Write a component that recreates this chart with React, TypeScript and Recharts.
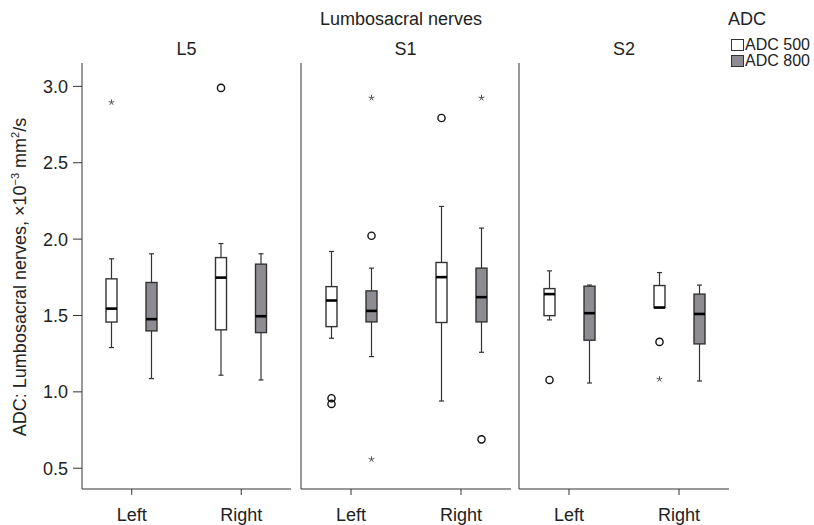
import { ComposedChart, Bar, XAxis, YAxis } from 'recharts';

const FONT = '"Liberation Sans", Arial, Helvetica, sans-serif';

const sides = ['Left', 'Right'];
const nerves = ['L5', 'S1', 'S2'];
const yTicks = [0.5, 1.0, 1.5, 2.0, 2.5, 3.0];

// box stats per side (Left, Right): [lower whisker, Q1, median, Q3, upper whisker]
const l5Adc500 = [[1.29, 1.457, 1.545, 1.74, 1.871], [1.109, 1.406, 1.748, 1.879, 1.971]];
const l5Adc800 = [[1.087, 1.399, 1.476, 1.716, 1.904], [1.078, 1.388, 1.495, 1.836, 1.904]];
const s1Adc500 = [[1.351, 1.427, 1.598, 1.689, 1.919], [0.94, 1.454, 1.751, 1.847, 2.214]];
const s1Adc800 = [[1.231, 1.458, 1.53, 1.661, 1.81], [1.259, 1.458, 1.62, 1.81, 2.072]];
const s2Adc500 = [[1.471, 1.499, 1.64, 1.676, 1.792], [1.552, 1.552, 1.552, 1.696, 1.781]];
const s2Adc800 = [[1.058, 1.338, 1.515, 1.692, 1.699], [1.071, 1.314, 1.51, 1.64, 1.699]];

// outliers per side: circles = outliers, stars = extreme values
const l5Adc500Circles = [[], [2.99]];
const l5Adc500Stars = [[2.895], []];
const l5Adc800Circles = [[], []];
const l5Adc800Stars = [[], []];
const s1Adc500Circles = [[0.958, 0.921], [2.793]];
const s1Adc500Stars = [[], []];
const s1Adc800Circles = [[2.022], [0.689]];
const s1Adc800Stars = [[2.924, 0.558], [2.924]];
const s2Adc500Circles = [[1.078], [1.327]];
const s2Adc500Stars = [[], [1.083]];
const s2Adc800Circles = [[], []];
const s2Adc800Stars = [[], []];

const WHITE = '#ffffff';
const GREY = '#8e8c92';
const INK = '#222222';

const range = (stats: number[], circles: number[], stars: number[]) => {
  const all = [...stats, ...circles, ...stars];
  return [Math.min(...all), Math.max(...all)];
};

const buildRows = (a500: number[][], a800: number[][], c500: number[][], s500: number[][], c800: number[][], s800: number[][]) =>
  sides.map((side, i) => ({
    side,
    a500: { stats: a500[i], circles: c500[i], stars: s500[i] },
    a800: { stats: a800[i], circles: c800[i], stars: s800[i] },
    r500: range(a500[i], c500[i], s500[i]),
    r800: range(a800[i], c800[i], s800[i]),
  }));

const panelRows = [
  buildRows(l5Adc500, l5Adc800, l5Adc500Circles, l5Adc500Stars, l5Adc800Circles, l5Adc800Stars),
  buildRows(s1Adc500, s1Adc800, s1Adc500Circles, s1Adc500Stars, s1Adc800Circles, s1Adc800Stars),
  buildRows(s2Adc500, s2Adc800, s2Adc500Circles, s2Adc500Stars, s2Adc800Circles, s2Adc800Stars),
];

const Star = ({ cx, cy }: { cx: number; cy: number }) => {
  const r = 3;
  const arms = [90, 162, 234, 306, 18].map((a) => {
    const rad = (a * Math.PI) / 180;
    return `M${cx},${cy}L${cx + r * Math.cos(rad)},${cy - r * Math.sin(rad)}`;
  });
  return <path d={arms.join('')} stroke="#555" strokeWidth={1} fill="none" />;
};

const BoxShape = (props: any) => {
  const { x, y, width, height, payload, seriesKey, rangeKey, fillColor } = props;
  const { stats, circles, stars } = payload[seriesKey];
  const [lo, hi] = payload[rangeKey];
  const top = Math.min(y, y + height);
  const bottom = Math.max(y, y + height);
  // linear map between the bar's own scaled ends
  const py = (v: number) => top + ((hi - v) / (hi - lo)) * (bottom - top);
  const cx = x + width / 2;
  const [wLo, q1, med, q3, wHi] = stats;
  const cap = 2.5;
  return (
    <g>
      <line x1={cx} x2={cx} y1={py(wHi)} y2={py(q3)} stroke="#333" strokeWidth={1.2} />
      <line x1={cx} x2={cx} y1={py(q1)} y2={py(wLo)} stroke="#333" strokeWidth={1.2} />
      <line x1={cx - cap} x2={cx + cap} y1={py(wHi)} y2={py(wHi)} stroke="#333" strokeWidth={1.2} />
      <line x1={cx - cap} x2={cx + cap} y1={py(wLo)} y2={py(wLo)} stroke="#333" strokeWidth={1.2} />
      <rect x={x} y={py(q3)} width={width} height={py(q1) - py(q3)} fill={fillColor} stroke="#333" strokeWidth={1.4} />
      <line x1={x} x2={x + width} y1={py(med)} y2={py(med)} stroke="#000" strokeWidth={2.6} />
      {circles.map((v: number, i: number) => (
        <circle key={`c${i}`} cx={cx} cy={py(v)} r={3.6} fill="none" stroke="#111" strokeWidth={1.4} />
      ))}
      {stars.map((v: number, i: number) => (
        <Star key={`s${i}`} cx={cx} cy={py(v)} />
      ))}
    </g>
  );
};

const tickStyle = { fontSize: 18, fill: INK, fontFamily: FONT };

const Panel = ({ rows, first }: { rows: any[]; first: boolean }) => (
  <ComposedChart
    width={first ? 291 : 211}
    height={525}
    data={rows}
    margin={{ top: 63, right: 0, bottom: 0, left: 0 }}
    barSize={11}
    barGap={29}
  >
    <XAxis
      dataKey="side"
      padding={{ left: -5, right: -5 }}
      height={36}
      tickSize={6}
      tickMargin={13}
      stroke="#333"
      tick={tickStyle}
    />
    {first ? (
      <YAxis
        type="number"
        domain={[0.364, 3.153]}
        allowDataOverflow
        ticks={yTicks}
        tickFormatter={(v: number) => v.toFixed(1)}
        width={82}
        tickSize={9}
        tickMargin={5}
        stroke="#333"
        tick={tickStyle}
      />
    ) : (
      <YAxis
        type="number"
        domain={[0.364, 3.153]}
        allowDataOverflow
        ticks={yTicks}
        width={1}
        tick={false}
        tickLine={false}
        stroke="#333"
      />
    )}
    <Bar
      dataKey={(d: any) => d.r500}
      isAnimationActive={false}
      shape={(p: any) => <BoxShape {...p} seriesKey="a500" rangeKey="r500" fillColor={WHITE} />}
    />
    <Bar
      dataKey={(d: any) => d.r800}
      isAnimationActive={false}
      shape={(p: any) => <BoxShape {...p} seriesKey="a800" rangeKey="r800" fillColor={GREY} />}
    />
  </ComposedChart>
);

const panelLeft = [0, 300, 518];
const panelCenter = [186.5, 405.5, 624];
const supStyle = { fontSize: 11, verticalAlign: '7px', lineHeight: 0 };

export default function App() {
  return (
    <div
      style={{
        position: 'absolute',
        left: 0,
        top: 0,
        width: 814,
        height: 525,
        background: '#fff',
        fontFamily: FONT,
        color: INK,
        overflow: 'hidden',
      }}
    >
      {panelRows.map((rows, i) => (
        <div key={nerves[i]} style={{ position: 'absolute', left: panelLeft[i], top: 0 }}>
          <Panel rows={rows} first={i === 0} />
        </div>
      ))}
      <div style={{ position: 'absolute', left: 301, width: 200, top: 9, textAlign: 'center', fontSize: 18, lineHeight: '20px' }}>
        Lumbosacral nerves
      </div>
      {nerves.map((n, i) => (
        <div
          key={n}
          style={{ position: 'absolute', left: panelCenter[i] - 40, width: 80, top: 39, textAlign: 'center', fontSize: 18, lineHeight: '20px' }}
        >
          {n}
        </div>
      ))}
      <div
        style={{
          position: 'absolute',
          left: 20,
          top: 277,
          transform: 'translate(-50%, -50%) rotate(-90deg)',
          whiteSpace: 'nowrap',
          fontSize: 18,
          lineHeight: '20px',
        }}
      >
        ADC: Lumbosacral nerves, ×10<sup style={supStyle}>−3</sup> mm<sup style={supStyle}>2</sup>/s
      </div>
      <div style={{ position: 'absolute', left: 728, top: 9, fontSize: 18, lineHeight: '20px' }}>ADC</div>
      {[
        { label: 'ADC 500', fill: WHITE, top: 36 },
        { label: 'ADC 800', fill: GREY, top: 52 },
      ].map((item) => (
        <div key={item.label} style={{ position: 'absolute', left: 731, top: item.top, display: 'flex', alignItems: 'center', fontSize: 16, lineHeight: '18px' }}>
          <span style={{ display: 'inline-block', width: 13, height: 12, background: item.fill, border: '1.3px solid #333', boxSizing: 'border-box', marginRight: 1 }} />
          {item.label}
        </div>
      ))}
    </div>
  );
}
